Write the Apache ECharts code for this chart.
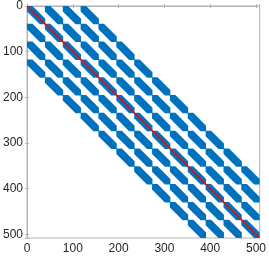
<!DOCTYPE html>
<html>
<head>
<meta charset="utf-8">
<script src="https://cdn.jsdelivr.net/npm/echarts@6/dist/echarts.min.js"></script>
<style>html,body{margin:0;padding:0;background:#fff}#c{width:269px;height:258px}</style>
</head>
<body>
<div id="c"></div>
<script>
// Sparsity structure
const matrixSize = 507;          // n x n
const blockSize = 39;            // rows per block
const numBlocks = 13;
const blockOffsets = [-3, -2, -1, 0, 1, 2, 3];  // nonzero block diagonals
const bandHalfWidth = 10;        // band inside each block (|i-j| <= w)
const markerRadius = 1.0;        // dot size in matrix units
const axisMax = 508;
const tickValues = [0, 100, 200, 300, 400, 500];
const diagLine = [[1, 1], [507, 507]];

const blocks = [];
for (let I = 0; I < numBlocks; I++) {
  for (const d of blockOffsets) {
    const J = I + d;
    if (J >= 0 && J < numBlocks) blocks.push([I, J]);
  }
}

const blue = '#0072BD';
const chart = echarts.init(document.getElementById('c'), null, {renderer: 'canvas'});
const axisColor = '#b3b3b3';
const labelColor = '#262626';
const font = 'Liberation Sans, Arial, Helvetica, sans-serif';
const fmt = v => (tickValues.indexOf(v) >= 0 ? String(v) : '');

chart.setOption({
  animation: false,
  grid: {left: 27, top: 5, width: 233, height: 233, show: true, borderColor: axisColor, borderWidth: 1},
  xAxis: [{
    type: 'value', min: 0, max: axisMax, interval: 100, position: 'bottom',
    axisLine: {show: true, lineStyle: {color: axisColor}},
    axisTick: {show: true, inside: true, length: 2, lineStyle: {color: axisColor}},
    axisLabel: {color: labelColor, fontSize: 12, fontFamily: font, margin: 5, formatter: fmt},
    splitLine: {show: false}
  }, {
    type: 'value', min: 0, max: axisMax, interval: 100, position: 'top',
    axisLine: {show: true, lineStyle: {color: axisColor}},
    axisTick: {show: true, inside: true, length: 2, lineStyle: {color: axisColor}},
    axisLabel: {show: false}, splitLine: {show: false}
  }],
  yAxis: [{
    type: 'value', min: 0, max: axisMax, interval: 100, inverse: true, position: 'left',
    axisLine: {show: true, lineStyle: {color: axisColor}},
    axisTick: {show: true, inside: true, length: 2, lineStyle: {color: axisColor}},
    axisLabel: {color: labelColor, fontSize: 12, fontFamily: font, margin: 4, formatter: fmt},
    splitLine: {show: false}
  }, {
    type: 'value', min: 0, max: axisMax, interval: 100, inverse: true, position: 'right',
    axisLine: {show: true, lineStyle: {color: axisColor}},
    axisTick: {show: true, inside: true, length: 2, lineStyle: {color: axisColor}},
    axisLabel: {show: false}, splitLine: {show: false}
  }],
  series: [{
    type: 'custom',
    xAxisIndex: 0, yAxisIndex: 0,
    clip: true,
    data: blocks,
    renderItem: function (params, api) {
      const I = api.value(0), J = api.value(1);
      const b = blockSize, w = bandHalfWidth, r = markerRadius;
      const r0 = I * b + 1, c0 = J * b + 1, e = b - 1;
      const local = [[-r, -r], [w + r, -r], [e + r, e - w - r], [e + r, e + r], [e - w - r, e + r], [-r, w + r]];
      const pts = local.map(p => api.coord([c0 + p[0], r0 + p[1]]));
      return {type: 'polygon', shape: {points: pts}, style: {fill: blue}};
    }
  }, {
    type: 'line',
    xAxisIndex: 0, yAxisIndex: 0,
    data: diagLine,
    symbol: 'none',
    lineStyle: {color: '#ff0000', width: 1.5}
  }]
});
</script>
</body>
</html>
